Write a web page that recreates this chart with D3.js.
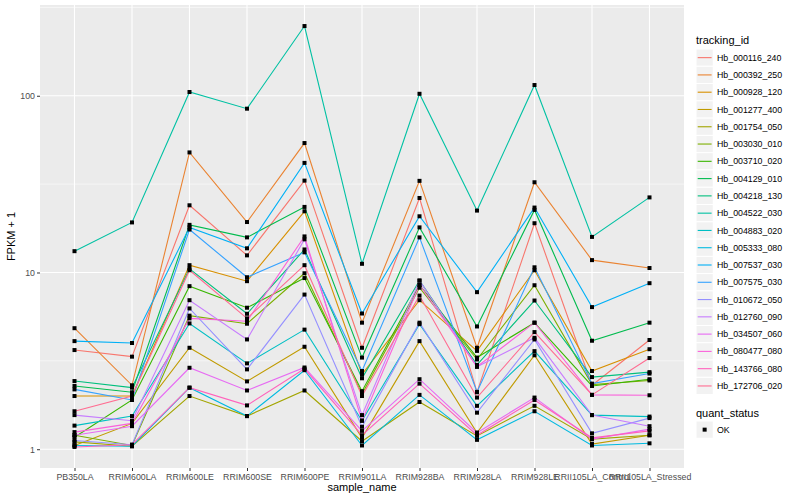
<!DOCTYPE html>
<html>
<head>
<meta charset="utf-8">
<script src="https://cdn.jsdelivr.net/npm/d3@7"></script>
<style>
  body { margin: 0; background: #fff; }
  text { font-family: "Liberation Sans", Arial, sans-serif; }
</style>
</head>
<body>
<svg id="chart" width="800" height="500"></svg>
<script>
// sample names on the x axis
samples = ["PB350LA", "RRIM600LA", "RRIM600LE", "RRIM600SE", "RRIM600PE", "RRIM901LA",
  "RRIM928BA", "RRIM928LA", "RRIM928LE", "RRII105LA_Control", "RRII105LA_Stressed"];

// tracking ids (legend order)
trackingIds = ["Hb_000116_240", "Hb_000392_250", "Hb_000928_120", "Hb_001277_400", "Hb_001754_050",
  "Hb_003030_010", "Hb_003710_020", "Hb_004129_010", "Hb_004218_130", "Hb_004522_030",
  "Hb_004883_020", "Hb_005333_080", "Hb_007537_030", "Hb_007575_030", "Hb_010672_050",
  "Hb_012760_090", "Hb_034507_060", "Hb_080477_080", "Hb_143766_080", "Hb_172706_020"];

// FPKM + 1, one row per tracking id, one value per sample
fpkm = [
  [3.64, 3.34, 24.0, 12.5, 33.1, 3.75, 26.4, 2.10, 19.0, 2.30, 4.15],
  [4.84, 2.30, 47.8, 19.3, 54.0, 5.20, 33.0, 3.75, 32.4, 11.75, 10.6],
  [2.00, 2.00, 11.0, 8.93, 22.2, 2.65, 6.97, 3.60, 10.3, 2.77, 3.68],
  [1.05, 1.40, 3.75, 2.42, 3.80, 1.16, 4.09, 1.24, 3.40, 1.07, 1.20],
  [1.10, 1.04, 2.00, 1.54, 2.15, 1.11, 1.85, 1.19, 1.76, 1.14, 1.20],
  [1.20, 1.05, 5.70, 5.13, 9.90, 2.05, 8.20, 3.22, 8.47, 2.32, 2.45],
  [1.17, 1.90, 8.37, 6.32, 9.30, 2.13, 8.50, 3.30, 5.20, 2.28, 2.49],
  [2.28, 2.10, 18.6, 15.8, 23.5, 3.30, 18.0, 4.95, 22.6, 4.11, 5.20],
  [2.43, 2.23, 10.5, 5.84, 13.5, 2.52, 9.00, 3.00, 6.94, 2.56, 2.73],
  [13.2, 19.2, 105, 84.5, 248, 11.2, 102.6, 22.4, 115, 15.9, 26.6],
  [1.36, 1.54, 5.15, 3.06, 4.75, 1.45, 5.10, 1.76, 3.59, 1.56, 1.53],
  [1.05, 1.04, 2.23, 1.54, 2.80, 1.05, 2.03, 1.13, 1.64, 1.05, 1.08],
  [4.09, 3.99, 18.0, 13.7, 41.7, 5.86, 20.8, 7.74, 23.3, 6.37, 8.70],
  [2.18, 1.90, 17.5, 9.40, 13.0, 2.77, 15.8, 2.11, 10.7, 2.35, 2.68],
  [1.12, 1.06, 6.26, 2.83, 7.50, 1.34, 5.20, 1.61, 4.18, 1.23, 1.50],
  [1.56, 1.45, 6.97, 4.18, 15.4, 1.56, 9.00, 2.93, 4.27, 1.56, 1.35],
  [1.20, 1.35, 2.89, 2.15, 2.90, 1.27, 2.49, 1.24, 1.96, 1.14, 1.30],
  [1.25, 1.40, 5.50, 5.30, 16.0, 1.45, 8.50, 2.93, 5.20, 2.03, 2.02],
  [1.03, 1.06, 2.23, 1.77, 2.85, 1.20, 2.35, 1.20, 1.90, 1.16, 1.27],
  [1.64, 2.00, 10.3, 5.50, 11.0, 2.00, 7.40, 1.96, 4.60, 2.03, 3.28]
];

// ggplot default hue palette for 20 levels
palette = ["#F8766D", "#EA8331", "#D89000", "#C09B00", "#A3A500", "#7CAE00", "#39B600", "#00BB4E",
  "#00BF7D", "#00C1A3", "#00BFC4", "#00BAE0", "#00B0F6", "#35A2FF", "#9590FF", "#C77CFF",
  "#E76BF3", "#FA62DB", "#FF62BC", "#FF6C91"];

yTicks = [1, 10, 100];

svg = d3.select("#chart");
panel = { left: 40, top: 5, right: 684, bottom: 468 };

// discrete x scale with ggplot's 0.6 expansion on each side
x = d3.scalePoint()
  .domain(samples)
  .range([panel.left, panel.right])
  .padding(0.6);

// log y scale, expanded by 5% of the data range
allValues = fpkm.flat();
lo = Math.log10(d3.min(allValues));
hi = Math.log10(d3.max(allValues));
pad = (hi - lo) * 0.05;
y = d3.scaleLog()
  .domain([Math.pow(10, lo - pad), Math.pow(10, hi + pad)])
  .range([panel.bottom, panel.top]);

// panel background
svg.append("rect")
  .attr("x", panel.left).attr("y", panel.top)
  .attr("width", panel.right - panel.left).attr("height", panel.bottom - panel.top)
  .attr("fill", "#EBEBEB");

// minor gridlines at half decades
minor = [0.5, 1.5, 2.5].map(d => Math.pow(10, d))
  .filter(v => y(v) >= panel.top && y(v) <= panel.bottom);
svg.append("g").selectAll("line")
  .data(minor)
  .enter().append("line")
    .attr("x1", panel.left).attr("x2", panel.right)
    .attr("y1", d => y(d)).attr("y2", d => y(d))
    .attr("stroke", "#fff").attr("stroke-width", 0.55);

// major gridlines
svg.append("g").selectAll("line")
  .data(yTicks)
  .enter().append("line")
    .attr("x1", panel.left).attr("x2", panel.right)
    .attr("y1", d => y(d)).attr("y2", d => y(d))
    .attr("stroke", "#fff").attr("stroke-width", 1.1);
svg.append("g").selectAll("line")
  .data(samples)
  .enter().append("line")
    .attr("x1", d => x(d)).attr("x2", d => x(d))
    .attr("y1", panel.top).attr("y2", panel.bottom)
    .attr("stroke", "#fff").attr("stroke-width", 1.1);

// axes
yAxis = svg.append("g")
  .attr("transform", `translate(${panel.left},0)`)
  .call(d3.axisLeft(y).tickValues(yTicks).tickFormat(d3.format("d")).tickSize(3).tickPadding(2));
xAxis = svg.append("g")
  .attr("transform", `translate(0,${panel.bottom})`)
  .call(d3.axisBottom(x).tickSize(3).tickPadding(3));
[xAxis, yAxis].forEach(a => {
  a.select(".domain").remove();
  a.selectAll(".tick line").attr("stroke", "#333").attr("stroke-width", 1);
  a.selectAll(".tick text").attr("fill", "#4D4D4D").style("font-size", "8.8px")
    .style("font-family", "'Liberation Sans', Arial, sans-serif");
});

// axis titles
svg.append("text")
  .attr("x", (panel.left + panel.right) / 2).attr("y", 491)
  .attr("text-anchor", "middle").style("font-size", "11px").attr("fill", "#000")
  .text("sample_name");
svg.append("text")
  .attr("transform", `translate(15,${(panel.top + panel.bottom) / 2}) rotate(-90)`)
  .attr("text-anchor", "middle").style("font-size", "11px").attr("fill", "#000")
  .text("FPKM + 1");

// lines, one per tracking id
series = trackingIds.map((id, i) => ({
  id: id,
  color: palette[i],
  values: samples.map((s, j) => ({ sample: s, value: fpkm[i][j] }))
}));

line = d3.line()
  .x(d => x(d.sample))
  .y(d => y(d.value));

svg.append("g").selectAll("path")
  .data(series)
  .enter().append("path")
    .attr("d", d => line(d.values))
    .attr("fill", "none")
    .attr("stroke", d => d.color)
    .attr("stroke-width", 1.1);

// points on top
points = series.flatMap(d => d.values);
svg.append("g").selectAll("rect")
  .data(points)
  .enter().append("rect")
    .attr("x", d => x(d.sample) - 2)
    .attr("y", d => y(d.value) - 2)
    .attr("width", 4).attr("height", 4)
    .attr("fill", "#000");

// legend: tracking_id
legend = svg.append("g").attr("transform", "translate(696,0)");
legend.append("text")
  .attr("x", 0).attr("y", 44)
  .style("font-size", "11px").text("tracking_id");

keys = legend.selectAll("g.key")
  .data(series)
  .enter().append("g")
    .attr("class", "key")
    .attr("transform", (d, i) => `translate(0,${49 + i * 17.28})`);
keys.append("rect")
  .attr("width", 17.28).attr("height", 17.28)
  .attr("fill", "#F2F2F2").attr("stroke", "#fff");
keys.append("line")
  .attr("x1", 1.7).attr("x2", 15.6)
  .attr("y1", 8.64).attr("y2", 8.64)
  .attr("stroke", d => d.color).attr("stroke-width", 1.1);
keys.append("text")
  .attr("x", 21).attr("y", 8.64).attr("dy", "0.35em")
  .style("font-size", "8.8px").text(d => d.id);

// legend: quant_status
legend.append("text")
  .attr("x", 0).attr("y", 417)
  .style("font-size", "11px").text("quant_status");
okKey = legend.append("g").attr("transform", "translate(0,421)");
okKey.append("rect")
  .attr("width", 17.28).attr("height", 17.28)
  .attr("fill", "#F2F2F2").attr("stroke", "#fff");
okKey.append("rect")
  .attr("x", 6.64).attr("y", 6.64).attr("width", 4).attr("height", 4)
  .attr("fill", "#000");
okKey.append("text")
  .attr("x", 21).attr("y", 8.64).attr("dy", "0.35em")
  .style("font-size", "8.8px").text("OK");
</script>
</body>
</html>
